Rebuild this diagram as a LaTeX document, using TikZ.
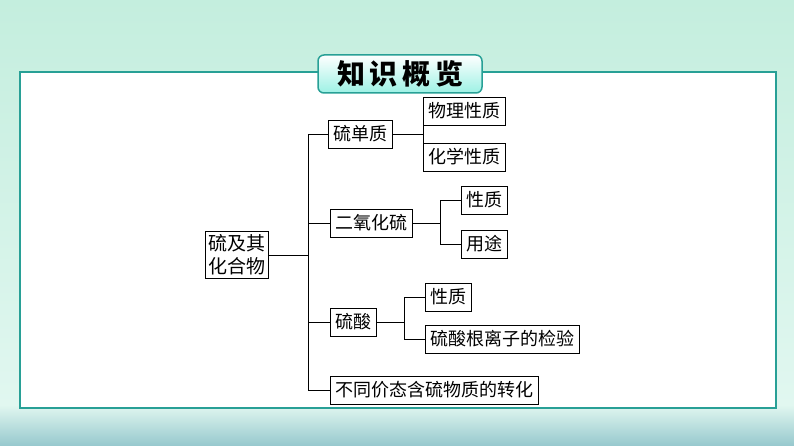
\documentclass[tikz,border=0pt]{standalone}
\usepackage{fontspec}
\setmainfont{Noto Sans CJK SC}
\usetikzlibrary{positioning}
\definecolor{bgtop}{RGB}{196,238,222}
\definecolor{bgmid}{RGB}{225,247,240}
\definecolor{framec}{RGB}{40,160,150}
\definecolor{water}{RGB}{150,200,205}
\tikzset{
  kbox/.style={draw,thick,fill=white,inner xsep=5pt,inner ysep=3pt,font=\fontsize{18}{21}\selectfont,minimum height=28pt,anchor=west},
  link/.style={thick}
}
\begin{document}
\begin{tikzpicture}[x=1pt,y=-1pt]
  % background
  \shade[top color=bgtop,bottom color=bgmid] (0,0) rectangle (794,405);
  \shade[top color=bgmid,bottom color=water] (0,405) rectangle (794,446);
  \useasboundingbox (0,0) rectangle (794,446);
  \draw[framec,line width=1.5pt,fill=white] (20,72) rectangle (776,408);
  \node[draw=framec,line width=1.5pt,rounded corners=6pt,top color=white,bottom color=bgtop!80!cyan,
        minimum width=164pt,minimum height=38pt,font=\fontsize{28}{32}\selectfont\bfseries] (title) at (400,74) {知\,识\,概\,览};
  % nodes
  \node[kbox,anchor=center,align=center,font=\fontsize{19}{23}\selectfont,inner xsep=3pt] (root) at (237,255) {硫及其\\化合物};
  \node[kbox] (s) at (328,134) {硫单质};
  \node[kbox] (so2) at (330,223) {二氧化硫};
  \node[kbox] (acid) at (330,322) {硫酸};
  \node[kbox] (conv) at (330,390) {不同价态含硫物质的转化};
  \node[kbox] (phy) at (423,111) {物理性质};
  \node[kbox] (chem) at (423,157) {化学性质};
  \node[kbox] (prop1) at (461,200) {性质};
  \node[kbox] (use) at (461,244) {用途};
  \node[kbox] (prop2) at (425,297) {性质};
  \node[kbox] (test) at (425,339) {硫酸根离子的检验};
  % connectors
  \coordinate (j0) at (308,255);
  \draw[link] (root) -- (j0);
  \foreach \n in {s,so2,acid,conv} \draw[link] (j0) |- (\n);
  \coordinate (j1) at (423,134);
  \draw[link] (s) -- (j1);
  \foreach \n in {phy,chem} \draw[link] (j1) |- (\n);
  \coordinate (j2) at (440,223);
  \draw[link] (so2) -- (j2);
  \foreach \n in {prop1,use} \draw[link] (j2) |- (\n);
  \coordinate (j3) at (404,322);
  \draw[link] (acid) -- (j3);
  \foreach \n in {prop2,test} \draw[link] (j3) |- (\n);
\end{tikzpicture}
\end{document}
